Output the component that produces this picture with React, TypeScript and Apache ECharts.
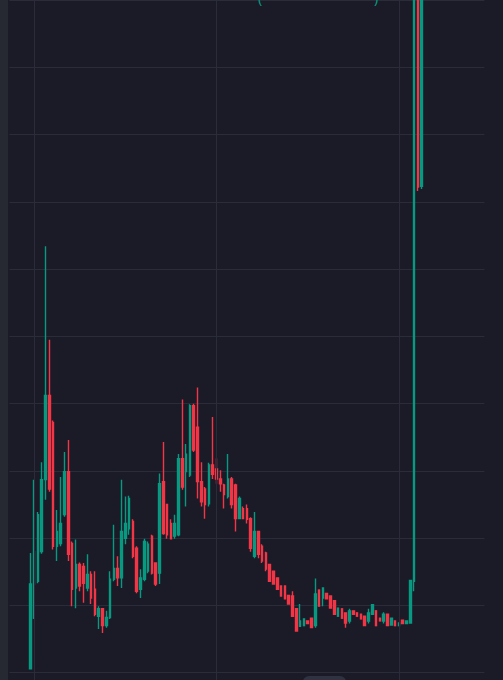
import React, { useEffect, useRef } from "react";
import * as echarts from "echarts";

// Candles: [open, close, low, high] (price units; one grid step = 10)
const candles: number[][] = [
  [0.6, 13.2, 0.5, 17.8],
  [13.2, 18.0, 8.0, 28.7],
  [13.6, 23.5, 13.3, 23.9],
  [18.0, 28.7, 17.7, 31.3],
  [28.7, 41.2, 25.7, 63.4],
  [41.2, 27.3, 26.9, 49.5],
  [37.2, 18.8, 18.3, 37.5],
  [18.8, 21.0, 16.6, 24.2],
  [19.2, 22.2, 18.8, 29.1],
  [23.5, 29.9, 23.2, 32.8],
  [29.9, 17.6, 16.6, 34.6],
  [19.2, 12.4, 9.9, 19.5],
  [12.6, 16.1, 9.6, 19.8],
  [16.1, 12.9, 12.1, 16.4],
  [15.8, 13.3, 10.4, 16.3],
  [12.6, 14.6, 12.1, 17.6],
  [14.6, 11.1, 10.2, 15.1],
  [12.4, 8.7, 8.4, 15.1],
  [8.4, 9.5, 6.5, 9.9],
  [9.5, 7.0, 5.9, 9.6],
  [7.0, 8.2, 6.7, 9.2],
  [8.2, 13.9, 8.0, 15.1],
  [13.9, 15.5, 13.6, 22.0],
  [15.5, 14.1, 12.9, 17.3],
  [14.1, 21.0, 12.6, 28.7],
  [20.0, 22.2, 19.1, 26.2],
  [21.4, 25.9, 20.5, 26.3],
  [22.5, 17.3, 17.0, 22.8],
  [18.5, 12.1, 11.8, 18.8],
  [12.4, 14.1, 11.1, 15.4],
  [13.9, 19.5, 13.6, 19.9],
  [15.1, 19.1, 14.8, 19.5],
  [20.3, 14.8, 14.6, 20.5],
  [16.3, 13.2, 12.9, 16.4],
  [14.8, 28.1, 13.2, 29.6],
  [28.4, 20.7, 20.5, 34.3],
  [25.0, 20.5, 19.9, 25.1],
  [22.2, 19.9, 19.8, 22.8],
  [20.3, 22.2, 19.9, 23.5],
  [20.5, 31.8, 20.3, 32.5],
  [31.8, 27.6, 27.2, 40.6],
  [29.9, 32.5, 24.7, 34.0],
  [29.4, 39.7, 29.1, 39.9],
  [39.7, 33.1, 32.8, 40.0],
  [36.5, 28.4, 25.9, 42.4],
  [28.4, 25.4, 24.7, 31.3],
  [27.3, 25.0, 22.9, 27.6],
  [25.1, 30.9, 24.7, 31.2],
  [30.9, 29.5, 28.8, 38.0],
  [30.3, 28.8, 28.1, 31.9],
  [28.8, 28.1, 26.9, 30.1],
  [27.9, 26.5, 24.4, 28.1],
  [26.2, 28.8, 25.9, 32.5],
  [28.8, 25.0, 24.4, 29.1],
  [27.9, 22.9, 21.0, 28.1],
  [22.9, 25.9, 22.8, 26.2],
  [24.4, 22.9, 22.8, 24.7],
  [24.4, 22.8, 22.2, 25.0],
  [22.9, 18.5, 18.0, 23.1],
  [17.3, 21.0, 17.0, 23.9],
  [21.0, 17.6, 17.0, 21.0],
  [18.8, 16.6, 16.3, 19.1],
  [17.8, 15.4, 15.1, 18.0],
  [16.1, 13.6, 13.6, 16.1],
  [15.1, 13.2, 13.2, 15.1],
  [14.1, 12.4, 12.4, 14.1],
  [12.9, 11.4, 11.3, 12.9],
  [12.9, 11.0, 10.9, 12.9],
  [11.5, 10.2, 10.1, 11.5],
  [11.4, 8.4, 8.4, 12.1],
  [9.5, 6.2, 6.2, 9.5],
  [6.9, 7.7, 6.9, 10.2],
  [7.0, 8.0, 7.0, 8.0],
  [7.7, 7.3, 7.3, 7.7],
  [8.1, 6.7, 6.7, 8.1],
  [7.0, 11.7, 6.7, 14.0],
  [12.3, 9.9, 9.9, 12.3],
  [11.1, 12.6, 9.9, 12.6],
  [11.8, 11.0, 11.0, 11.8],
  [11.4, 9.6, 9.6, 11.4],
  [10.7, 8.7, 8.7, 10.7],
  [8.4, 9.6, 8.4, 9.6],
  [9.5, 8.1, 8.1, 9.5],
  [8.9, 7.4, 6.7, 8.9],
  [7.7, 9.2, 7.3, 9.5],
  [9.2, 8.7, 8.7, 9.2],
  [8.9, 8.4, 8.4, 8.9],
  [8.7, 8.0, 8.0, 8.7],
  [8.4, 7.0, 7.0, 8.4],
  [7.7, 8.9, 7.3, 9.5],
  [8.7, 10.1, 8.7, 10.1],
  [9.2, 7.0, 7.0, 9.2],
  [8.1, 7.7, 7.7, 8.1],
  [7.7, 8.7, 7.3, 9.0],
  [8.7, 7.0, 7.0, 8.7],
  [7.1, 8.1, 7.1, 8.1],
  [7.7, 7.0, 7.0, 7.7],
  [7.0, 7.4, 7.0, 7.4],
  [7.8, 7.3, 7.3, 7.8],
  [7.3, 7.7, 7.3, 7.7],
  [7.4, 13.7, 7.3, 13.8],
  [13.6, 125, 12.1, 140],
  [120, 72.2, 71.6, 130],
  [72.3, 115, 71.9, 125],
];

const LEAD = 5; // empty slots before the first candle
const TOTAL = 125; // total category slots
const verticalGridAt = [6, 54, 102]; // category indices of the vertical grid lines
const yTicks = { min: -10, max: 100, interval: 10 };

const categories: string[] = Array.from({ length: TOTAL }, (_, i) => "c" + i);
const seriesData: any[] = categories.map((_, i) => {
  const k = i - LEAD;
  return k >= 0 && k < candles.length ? candles[k] : "-";
});

const UP = "#089981";
const DOWN = "#f23645";
const BG = "#1a1b27";
const GRID = "#2a2c39";

export default function App() {
  const ref = useRef<HTMLDivElement>(null);
  useEffect(() => {
    if (!ref.current) return;
    const chart = echarts.init(ref.current, null, { renderer: "svg" });
    chart.setOption({
      animation: false,
      backgroundColor: BG,
      grid: { left: 9.4, right: 18.6, top: -5.5, bottom: 0, containLabel: false },
      xAxis: {
        type: "category",
        data: categories,
        boundaryGap: true,
        axisLine: { show: false },
        axisTick: { show: false },
        axisLabel: { show: false },
        splitLine: { show: false },
      },
      yAxis: {
        type: "value",
        min: yTicks.min,
        max: yTicks.max,
        interval: yTicks.interval,
        axisLine: { show: false },
        axisTick: { show: false },
        axisLabel: { show: false },
        splitLine: { show: true, lineStyle: { color: GRID, width: 1 } },
      },
      graphic: [
        { type: "rect", left: 0, top: 0, shape: { width: 8, height: 740 }, style: { fill: "#262832" }, z: 10 },
        { type: "rect", left: 303, top: 676, shape: { width: 43, height: 14, r: 6 }, style: { fill: "#2f3241" }, z: 10 },
        { type: "text", x: 258, y: 4, style: { text: "(", fill: UP, font: "14px 'Noto Sans'", verticalAlign: "bottom" }, z: 10 },
        { type: "text", x: 374, y: 4, style: { text: ")", fill: UP, font: "14px 'Noto Sans'", verticalAlign: "bottom" }, z: 10 },
      ],
      series: [
        {
          type: "line",
          data: [],
          z: 1,
          silent: true,
          markLine: {
            silent: true,
            symbol: ["none", "none"],
            label: { show: false },
            lineStyle: { color: GRID, width: 1, type: "solid" },
            data: verticalGridAt.map((i) => ({ xAxis: i })),
          },
        },
        {
          type: "candlestick",
          z: 3,
          data: seriesData,
          barWidth: 2,
          clip: true,
          itemStyle: {
            color: UP,
            color0: DOWN,
            borderColor: UP,
            borderColor0: DOWN,
            borderWidth: 1.4,
          },
        },
      ],
    });
    return () => chart.dispose();
  }, []);
  return (
    <div style={{ position: "fixed", left: 0, top: 0, width: 503, height: 680, overflow: "hidden" }}>
      <div ref={ref} style={{ width: 503, height: 740 }} />
    </div>
  );
}
